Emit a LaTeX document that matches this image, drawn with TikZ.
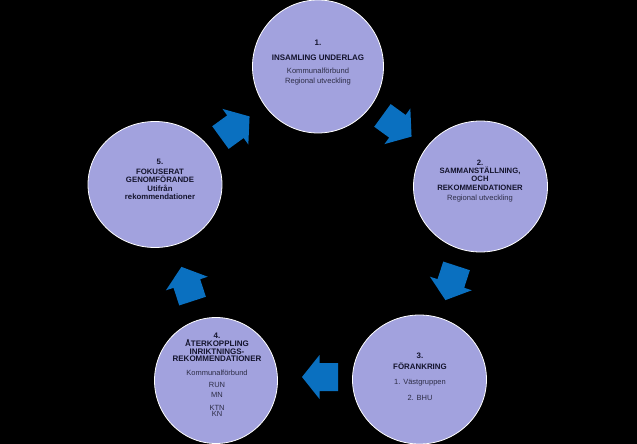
\documentclass[tikz,border=0pt]{standalone}
\usepackage{fontspec}
\setmainfont{Liberation Sans}
\usetikzlibrary{shapes.geometric}
\definecolor{bubfill}{RGB}{162,162,222}
\definecolor{arrowblue}{RGB}{10,112,192}
\definecolor{txtbold}{RGB}{20,20,45}
\definecolor{txtreg}{RGB}{45,45,70}
\begin{document}
\begin{tikzpicture}[x=1pt,y=-1pt,
  bub/.style={ellipse, fill=bubfill, draw=white, line width=0.8pt, inner sep=0pt},
  hd/.style={font=\fontsize{#1}{#1}\selectfont\bfseries, text=txtbold, anchor=base, inner sep=0pt},
  hd/.default=8,
  bd/.style={font=\fontsize{#1}{#1}\selectfont, text=txtreg, anchor=base, inner sep=0pt},
  bd/.default=7.6,
  blockarrow/.style={fill=arrowblue}]
\fill[black] (0,0) rectangle (637,444);
\useasboundingbox (0,0) rectangle (637,444);

% bubbles
\node[bub, minimum width=131pt, minimum height=133pt] (n1) at (318,66.5) {};
\node[bub, minimum width=134pt, minimum height=131pt] (n2) at (480.5,186.5) {};
\node[bub, minimum width=134pt, minimum height=129pt] (n3) at (419.5,379.5) {};
\node[bub, minimum width=123pt, minimum height=126pt] (n4) at (216,380.5) {};
\node[bub, minimum width=134pt, minimum height=126pt] (n5) at (155,184.5) {};

% block arrows (local shape points along +x)
\def\blk#1#2#3{%
  \begin{scope}[shift={(#1,#2)}, rotate=#3]
    \fill[blockarrow] (-18,-14) -- (0.5,-14) -- (0.5,-22) -- (18,0)
      -- (0.5,22) -- (0.5,14) -- (-18,14) -- cycle;
  \end{scope}}
\blk{397}{126}{-36}
\blk{451}{283}{-108}
\blk{320}{377}{180}
\blk{187}{284}{108}
\blk{235}{127}{36}

% texts circle 1
\node[hd] (t1a) at (318,46) {1.};
\node[hd] (t1b) at (318,60) {INSAMLING UNDERLAG};
\node[bd] (t1c) at (318,73.5) {Kommunalförbund};
\node[bd] (t1d) at (318,83) {Regional utveckling};

% circle 2
\node[hd=7.7] (t2a) at (480,165) {2.};
\node[hd=7.7] (t2b) at (480,173) {SAMMANSTÄLLNING,};
\node[hd=7.7] (t2c) at (480,181) {OCH};
\node[hd=7.7] (t2d) at (480,190) {REKOMMENDATIONER};
\node[bd] (t2e) at (480,200.5) {Regional utveckling};

% circle 3
\node[hd=7.9] (t3a) at (420,358) {3.};
\node[hd=7.9] (t3b) at (420,369) {FÖRANKRING};
\node[bd=7.5] (t3c) at (420,384.5) {1. Västgruppen};
\node[bd=7.5] (t3d) at (420,400.5) {2. BHU};

% circle 4
\node[hd=8] (t4a) at (217,338.5) {4.};
\node[hd=8] (t4b) at (217,346) {ÅTERKOPPLING};
\node[hd=8] (t4c) at (217,354) {INRIKTNINGS-};
\node[hd=8] (t4d) at (217,361.5) {REKOMMENDATIONER};
\node[bd=7.5] (t4e) at (217,375.5) {Kommunalförbund};
\node[bd=7.5] (t4f) at (217,387) {RUN};
\node[bd=7.5] (t4g) at (217,397) {MN};
\node[bd=7.5] (t4h) at (217,410) {KTN};
\node[bd=7.5] (t4i) at (217,416.5) {KN};

% circle 5
\node[hd=7.8] (t5a) at (160,164.5) {5.};
\node[hd=7.8] (t5b) at (160,174) {FOKUSERAT};
\node[hd=7.8] (t5c) at (160,182) {GENOMFÖRANDE};
\node[hd=7.8] (t5d) at (160,191) {Utifrån};
\node[hd=7.8] (t5e) at (160,199) {rekommendationer};
\end{tikzpicture}
\end{document}
